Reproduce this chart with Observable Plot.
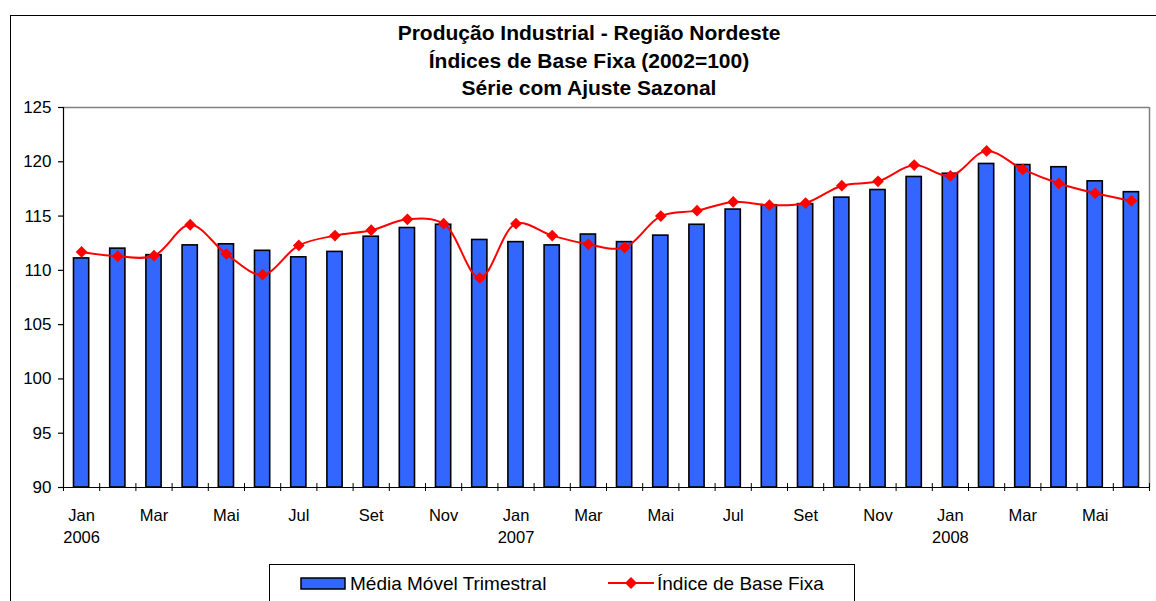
<!DOCTYPE html>
<html>
<head>
<meta charset="utf-8">
<script src="https://cdn.jsdelivr.net/npm/d3@7"></script>
<script src="https://cdn.jsdelivr.net/npm/@observablehq/plot@0.6"></script>
<style>
  html, body { margin: 0; padding: 0; background: #fff; }
  #wrap { position: relative; width: 1156px; height: 601px; overflow: hidden; font-family: "Liberation Sans", Arial, sans-serif; }
  #frame { position: absolute; left: 9.5px; top: 14.5px; width: 1300px; height: 700px; border: 1px solid #000; box-sizing: border-box; }
  #title { position: absolute; left: 0; top: 19px; width: 1178px; text-align: center; font-weight: bold; font-size: 21px; line-height: 27.5px; color: #000; }
  #chart { position: absolute; left: 0; top: 0; }
  #legend { position: absolute; left: 269px; top: 564px; width: 586px; height: 40px; border: 1px solid #000; box-sizing: border-box; background: #fff; }
  #legend svg { position: absolute; left: 0; top: 0; }
  .lt { position: absolute; font-size: 19px; color: #000; white-space: nowrap; line-height: 1; }
</style>
</head>
<body>
<div id="wrap">
  <div id="frame"></div>
  <div id="chart"></div>
  <div id="title">Produção Industrial - Região Nordeste<br>Índices de Base Fixa (2002=100)<br>Série com Ajuste Sazonal</div>
  <div id="legend">
    <svg width="586" height="40">
      <rect x="31" y="13" width="44" height="11" fill="#3366ff" stroke="#000" stroke-width="1.5"></rect>
      <line x1="338" x2="384" y1="18" y2="18" stroke="#ff0000" stroke-width="2"></line>
      <path d="M361,12L367,18L361,24L355,18Z" fill="#ff0000"></path>
    </svg>
    <div class="lt" style="left:80px; top:9px;">Média Móvel Trimestral</div>
    <div class="lt" style="left:387px; top:9px;">Índice de Base Fixa</div>
  </div>
</div>
<script>
const months = ["Jan\n2006","Fev","Mar","Abr","Mai","Jun","Jul","Ago","Set","Out","Nov","Dez",
                "Jan\n2007","Fev","Mar","Abr","Mai","Jun","Jul","Ago","Set","Out","Nov","Dez",
                "Jan\n2008","Fev","Mar","Abr","Mai","Jun"];
const tickLabels = ["Jan\n2006","","Mar","","Mai","","Jul","","Set","","Nov","",
                    "Jan\n2007","","Mar","","Mai","","Jul","","Set","","Nov","",
                    "Jan\n2008","","Mar","","Mai",""];
const mediaMovel = [111.1,112.0,111.4,112.3,112.4,111.8,111.2,111.7,113.1,113.9,114.2,112.8,
                    112.6,112.3,113.3,112.6,113.2,114.2,115.6,116.0,116.1,116.7,117.4,118.6,
                    118.9,119.8,119.7,119.5,118.2,117.2];
const indiceBase = [111.7,111.3,111.35,114.2,111.5,109.6,112.3,113.2,113.7,114.7,114.3,109.3,
                    114.3,113.2,112.4,112.1,115.0,115.5,116.3,116.0,116.2,117.8,118.2,119.7,
                    118.7,121.0,119.3,118.0,117.1,116.4];
const yTicks = [90,95,100,105,110,115,120,125];

const data = months.map((m, i) => ({i, m, media: mediaMovel[i], indice: indiceBase[i], label: tickLabels[i]}));
const bounds = d3.range(0, months.length + 1);

const chart = Plot.plot({
  width: 1156,
  height: 601,
  marginTop: 107,
  marginBottom: 114,
  marginLeft: 63,
  marginRight: 7,
  style: {fontFamily: "'Liberation Sans', Arial, sans-serif", color: "#000", background: "transparent", overflow: "visible"},
  x: {domain: [0, months.length], axis: null},
  y: {domain: [90, 125], axis: null},
  marks: [
    Plot.ruleY([125], {stroke: "#808080", strokeWidth: 1.5}),
    Plot.ruleX([months.length], {stroke: "#808080", strokeWidth: 1.5}),
    Plot.rectY(data, {x1: d => d.i + 0.29, x2: d => d.i + 0.71, y1: 90, y2: "media", fill: "#3366ff", stroke: "#000", strokeWidth: 1.6}),
    Plot.ruleX([0], {stroke: "#000", strokeWidth: 1.2}),
    Plot.ruleY([90], {stroke: "#000", strokeWidth: 1.2}),
    Plot.ruleX(bounds, {x: d => d, y1: 90, y2: 90, insetTop: -4, insetBottom: -4, stroke: "#000", strokeWidth: 1}),
    Plot.axisY({ticks: yTicks, tickSize: 5, tickPadding: 7, fontSize: 17, stroke: "#000", strokeWidth: 1.2, tickFormat: d => String(d)}),
    Plot.text(data, {x: d => d.i + 0.5, y: () => 90, text: "label", dy: 18.3, lineAnchor: "top", lineHeight: 1.33, fontSize: 16.5, fill: "#000"}),
    Plot.line(data, {x: d => d.i + 0.5, y: "indice", stroke: "#ff0000", strokeWidth: 2, curve: "catmull-rom"}),
    Plot.dot(data, {x: d => d.i + 0.5, y: "indice", symbol: "diamond2", r: 5.3, fill: "#ff0000", stroke: "none"})
  ]
});
document.getElementById("chart").appendChild(chart);
</script>
</body>
</html>
